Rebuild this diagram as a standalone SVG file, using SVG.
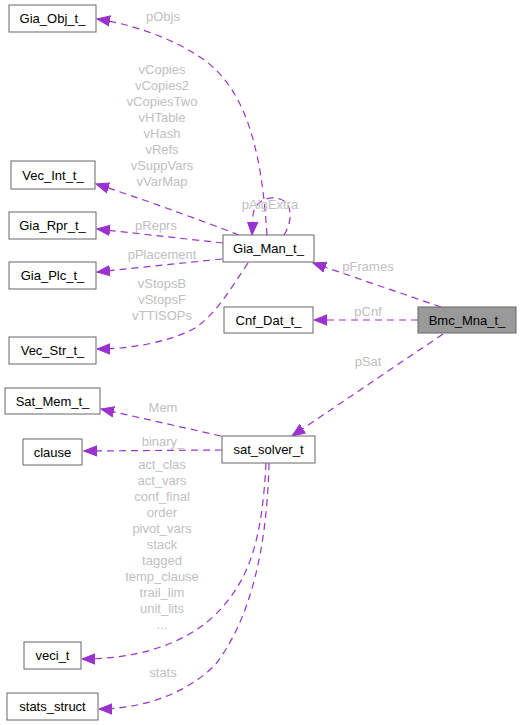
<svg xmlns="http://www.w3.org/2000/svg" width="522" height="725" viewBox="0 0 522 725">
<style>
.n rect{fill:#ffffff;stroke:#666666;stroke-width:1}
.n text{font-family:"Liberation Sans",Arial,sans-serif;font-size:13px;fill:#000000;text-anchor:middle}
.e path{fill:none;stroke:#9a32cd;stroke-width:1.2;stroke-dasharray:7,5}
.l{font-family:"Liberation Sans",Arial,sans-serif;font-size:13px;fill:#c0c0c0;text-anchor:middle}
</style>
<defs>
<marker id="ah" markerUnits="userSpaceOnUse" markerWidth="14" markerHeight="12" refX="13" refY="6" orient="auto">
<path d="M0,0.8 L13,6 L0,11.2 Z" fill="#9a32cd" stroke="#9a32cd" stroke-width="1"/>
</marker>
</defs>
<rect width="522" height="725" fill="#ffffff"/>
<g id="edges" class="e">
<path d="M441,307 L313,263" marker-end="url(#ah)"/>
<path d="M418,320 L314,320" marker-end="url(#ah)"/>
<path d="M443,334 L292,436" marker-end="url(#ah)"/>
<path d="M267,235 C262,160 250,90 200,57 C170,37 130,24 97,19" marker-end="url(#ah)"/>
<path d="M239,235 C200,220 140,198 96,184" marker-end="url(#ah)"/>
<path d="M223,243 L97,229" marker-end="url(#ah)"/>
<path d="M222,259 L97,272" marker-end="url(#ah)"/>
<path d="M248,263 C230,290 215,315 195,328 C170,342 130,349 97,349" marker-end="url(#ah)"/>
<path d="M284,235 C292,222 294,204 280,199 C266,195 254,203 253,215 L252,235" marker-end="url(#ah)"/>
<path d="M221,436 L101,409" marker-end="url(#ah)"/>
<path d="M222,450 L84,451" marker-end="url(#ah)"/>
<path d="M266,463 C262,540 250,580 215,615 C180,648 130,659 82,659" marker-end="url(#ah)"/>
<path d="M269,463 C267,550 250,620 215,665 C180,700 130,709 99,709" marker-end="url(#ah)"/>
</g>
<g id="edge-labels">
<text class="l" x="368" y="271">pFrames</text>
<text class="l" x="368" y="316">pCnf</text>
<text class="l" x="368" y="366">pSat</text>
<text class="l" x="163" y="21">pObjs</text>
<text class="l" x="162" y="74">vCopies</text>
<text class="l" x="162" y="90">vCopies2</text>
<text class="l" x="162" y="106">vCopiesTwo</text>
<text class="l" x="162" y="122">vHTable</text>
<text class="l" x="162" y="138">vHash</text>
<text class="l" x="162" y="154">vRefs</text>
<text class="l" x="162" y="170">vSuppVars</text>
<text class="l" x="162" y="186">vVarMap</text>
<text class="l" x="156" y="230">pReprs</text>
<text class="l" x="162" y="259">pPlacement</text>
<text class="l" x="162" y="288">vStopsB</text>
<text class="l" x="162" y="304">vStopsF</text>
<text class="l" x="162" y="320">vTTISOPs</text>
<text class="l" x="270" y="209">pAigExtra</text>
<text class="l" x="163" y="412">Mem</text>
<text class="l" x="163" y="446">binary_</text>
<text class="l" x="162" y="469">act_clas</text>
<text class="l" x="162" y="485">act_vars</text>
<text class="l" x="162" y="501">conf_final</text>
<text class="l" x="162" y="517">order</text>
<text class="l" x="162" y="533">pivot_vars</text>
<text class="l" x="162" y="549">stack</text>
<text class="l" x="162" y="565">tagged</text>
<text class="l" x="162" y="581">temp_clause</text>
<text class="l" x="162" y="597">trail_lim</text>
<text class="l" x="162" y="613">unit_lits</text>
<text class="l" x="162" y="629">...</text>
<text class="l" x="163" y="677">stats</text>
</g>
<g id="Bmc_Mna_t_" class="n"><rect x="418" y="307" width="98" height="26" style="fill:#999999"/><text x="467" y="325">Bmc_Mna_t_</text></g>
<g id="Gia_Man_t_" class="n"><rect x="223" y="235" width="91" height="27"/><text x="268.5" y="253">Gia_Man_t_</text></g>
<g id="Cnf_Dat_t_" class="n"><rect x="224" y="307" width="89" height="26"/><text x="268.5" y="325">Cnf_Dat_t_</text></g>
<g id="sat_solver_t" class="n"><rect x="222" y="436" width="93" height="27"/><text x="268.5" y="454">sat_solver_t</text></g>
<g id="Gia_Obj_t_" class="n"><rect x="9" y="5" width="87" height="27"/><text x="52.5" y="23">Gia_Obj_t_</text></g>
<g id="Vec_Int_t_" class="n"><rect x="11" y="161" width="84" height="28"/><text x="53" y="180">Vec_Int_t_</text></g>
<g id="Gia_Rpr_t_" class="n"><rect x="9" y="212" width="87" height="27"/><text x="52.5" y="230">Gia_Rpr_t_</text></g>
<g id="Gia_Plc_t_" class="n"><rect x="9" y="262" width="87" height="27"/><text x="52.5" y="280">Gia_Plc_t_</text></g>
<g id="Vec_Str_t_" class="n"><rect x="9" y="337" width="87" height="27"/><text x="52.5" y="355">Vec_Str_t_</text></g>
<g id="Sat_Mem_t_" class="n"><rect x="5" y="388" width="95" height="26"/><text x="52.5" y="406">Sat_Mem_t_</text></g>
<g id="clause" class="n"><rect x="23" y="439" width="59" height="26"/><text x="52.5" y="457">clause</text></g>
<g id="veci_t" class="n"><rect x="24" y="642" width="57" height="27"/><text x="52.5" y="660">veci_t</text></g>
<g id="stats_struct" class="n"><rect x="7" y="693" width="91" height="27"/><text x="52.5" y="711">stats_struct</text></g>
</svg>
